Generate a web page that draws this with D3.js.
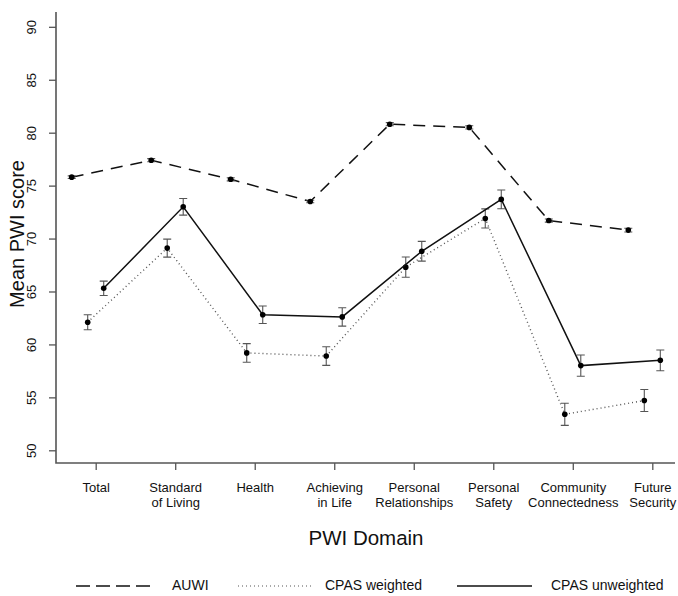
<!DOCTYPE html>
<html lang="en">
  <head>
    <meta charset="utf-8">
    <title>Mean PWI score by domain</title>
    <script src="https://cdn.jsdelivr.net/npm/d3@7/dist/d3.min.js"></script>
    <style>
      body { margin: 0; background: #fff; }
      text { font-family: "Liberation Sans", Arial, Helvetica, sans-serif; fill: #111; }
    </style>
  </head>
  <body>
    <script>

      /*
      DATA
       */

      const categories = ["Total", "Standard of Living", "Health", "Achieving in Life",
        "Personal Relationships", "Personal Safety", "Community Connectedness", "Future Security"];
      // where each tick label is broken into two lines
      const category_lines = [["Total"], ["Standard", "of Living"], ["Health"], ["Achieving", "in Life"],
        ["Personal", "Relationships"], ["Personal", "Safety"], ["Community", "Connectedness"], ["Future", "Security"]];

      const auwi = [75.8, 77.4, 75.6, 73.5, 80.8, 80.5, 71.7, 70.8];
      const auwi_err = [0.12, 0.15, 0.15, 0.12, 0.15, 0.15, 0.15, 0.18];

      const cpas_weighted = [62.1, 69.1, 59.2, 58.9, 67.3, 71.9, 53.4, 54.7];
      const cpas_weighted_err = [0.71, 0.85, 0.88, 0.88, 0.96, 0.90, 1.05, 1.04];

      const cpas_unweighted = [65.3, 73.0, 62.8, 62.6, 68.8, 73.7, 58.0, 58.5];
      const cpas_unweighted_err = [0.68, 0.79, 0.83, 0.87, 0.93, 0.88, 1.00, 0.98];

      const y_ticks = [50, 55, 60, 65, 70, 75, 80, 85, 90];

      /*
      LAYOUT
       */

      const SVG_WIDTH = 678;
      const SVG_HEIGHT = 596;

      const AXIS_X = 56;      // x of the y axis line
      const AXIS_Y = 463;     // y of the x axis line
      const AXIS_TOP = 12;
      const AXIS_RIGHT = 675;
      const TICK_LEN = 7;

      const AXIS_COLOR = "#555";
      const ERR_COLOR = "#555";
      const CAP_HALF = 4;
      const POINT_R = 2.8;

      // each series is shifted sideways from its tick
      const series = [
        {name: "AUWI", values: auwi, err: auwi_err, offset: -24, dash: "12,8", color: "#111"},
        {name: "CPAS weighted", values: cpas_weighted, err: cpas_weighted_err, offset: -8, dash: "1,3", color: "#555"},
        {name: "CPAS unweighted", values: cpas_unweighted, err: cpas_unweighted_err, offset: 8, dash: null, color: "#111"}
      ];

      const LEGEND_Y = 586;
      const LEGEND_ITEMS = [
        {line_x: 76, text_x: 172},
        {line_x: 238, text_x: 325},
        {line_x: 457, text_x: 551}
      ];
      const LEGEND_LINE_LEN = 75;

      /*
      SVG
       */

      let svg = d3.select("body").append("svg")
        .attr("width", SVG_WIDTH)
        .attr("height", SVG_HEIGHT);

      let x = d3.scalePoint()
        .domain(categories)
        .range([95.7, 652.3]);

      let y = d3.scaleLinear()
        .domain([48.8, 91.4])
        .range([AXIS_Y, AXIS_TOP]);

      /* axes */

      let g_x_axis = svg.append("g")
        .attr("transform", "translate(0," + AXIS_Y + ")")
        .call(d3.axisBottom(x).tickSize(TICK_LEN).tickFormat(""));
      g_x_axis.select(".domain").remove();
      g_x_axis.selectAll(".tick line").attr("stroke", AXIS_COLOR).attr("stroke-width", 1.3);

      g_x_axis.selectAll(".tick").each(function(d, i) {
        let t = d3.select(this).append("text")
          .attr("fill", "#111")
          .attr("font-size", 13)
          .attr("text-anchor", "middle");
        category_lines[i].forEach(function(line, j) {
          t.append("tspan")
            .attr("x", 0)
            .attr("y", 29 + j * 15)
            .text(line);
        });
      });

      let g_y_axis = svg.append("g")
        .attr("transform", "translate(" + AXIS_X + ",0)")
        .call(d3.axisLeft(y).tickValues(y_ticks).tickSize(TICK_LEN).tickFormat(d3.format("d")));
      g_y_axis.select(".domain").remove();
      g_y_axis.selectAll(".tick line").attr("stroke", AXIS_COLOR).attr("stroke-width", 1.3);
      g_y_axis.selectAll(".tick text")
        .attr("fill", "#111")
        .attr("font-size", 13)
        .attr("x", null)
        .attr("dy", null)
        .attr("text-anchor", "middle")
        .attr("dominant-baseline", "middle")
        .attr("transform", "translate(-23,0) rotate(-90)");

      // L shaped frame
      svg.append("path")
        .attr("d", "M" + AXIS_X + "," + AXIS_TOP + "V" + AXIS_Y + "H" + AXIS_RIGHT)
        .attr("fill", "none")
        .attr("stroke", AXIS_COLOR)
        .attr("stroke-width", 1.6);

      /* axis titles */

      svg.append("text")
        .attr("x", 366)
        .attr("y", 540)
        .attr("text-anchor", "middle")
        .attr("dominant-baseline", "middle")
        .attr("font-size", 20.5)
        .text("PWI Domain");

      svg.append("text")
        .attr("transform", "translate(19,234) rotate(-90)")
        .attr("text-anchor", "middle")
        .attr("dominant-baseline", "middle")
        .attr("font-size", 20)
        .text("Mean PWI score");

      /* series */

      function px(s, i) {
        return x(categories[i]) + s.offset;
      }

      let line_gen = d3.line();

      series.forEach(function(s) {
        let g = svg.append("g");

        let pts = s.values.map(function(v, i) { return [px(s, i), y(v)]; });
        g.append("path")
          .attr("d", line_gen(pts))
          .attr("fill", "none")
          .attr("stroke", s.color)
          .attr("stroke-width", s.dash === "1,3" ? 1.4 : 1.5)
          .attr("stroke-dasharray", s.dash);

        // error bars
        s.values.forEach(function(v, i) {
          let cx = px(s, i);
          let y_hi = y(v + s.err[i]);
          let y_lo = y(v - s.err[i]);
          g.append("path")
            .attr("d", "M" + cx + "," + y_hi + "V" + y_lo
              + "M" + (cx - CAP_HALF) + "," + y_hi + "H" + (cx + CAP_HALF)
              + "M" + (cx - CAP_HALF) + "," + y_lo + "H" + (cx + CAP_HALF))
            .attr("fill", "none")
            .attr("stroke", ERR_COLOR)
            .attr("stroke-width", 1.1);
        });

        g.selectAll("circle")
          .data(s.values)
          .enter().append("circle")
          .attr("cx", function(d, i) { return px(s, i); })
          .attr("cy", function(d) { return y(d); })
          .attr("r", POINT_R)
          .attr("fill", "#000");
      });

      /* legend */

      series.forEach(function(s, i) {
        let item = LEGEND_ITEMS[i];
        svg.append("line")
          .attr("x1", item.line_x)
          .attr("x2", item.line_x + LEGEND_LINE_LEN)
          .attr("y1", LEGEND_Y)
          .attr("y2", LEGEND_Y)
          .attr("stroke", s.color)
          .attr("stroke-width", s.dash === "1,3" ? 1.2 : 1.6)
          .attr("stroke-dasharray", s.dash === "12,8" ? "14,6" : s.dash);
        svg.append("text")
          .attr("x", item.text_x)
          .attr("y", LEGEND_Y)
          .attr("dominant-baseline", "middle")
          .attr("font-size", 14)
          .text(s.name);
      });

    </script>
  </body>
</html>
